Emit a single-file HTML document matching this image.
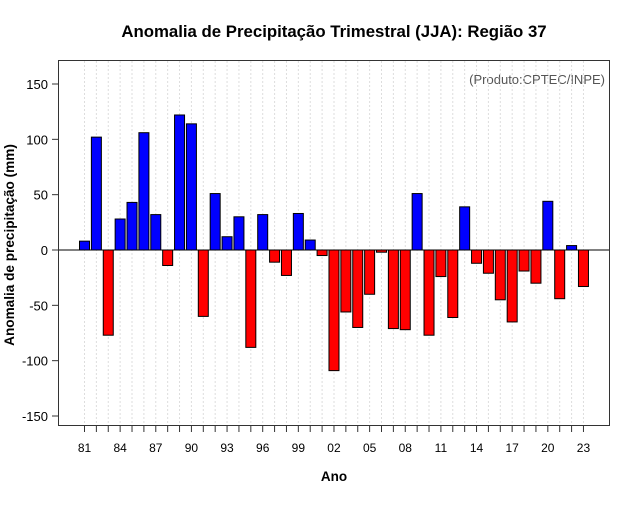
<!DOCTYPE html>
<html><head><meta charset="utf-8"><style>
body{margin:0;background:#fff}
svg text{font-family:"Liberation Sans",sans-serif}
</style></head><body>
<svg id="chart" width="640" height="500" xmlns="http://www.w3.org/2000/svg">
<rect width="640" height="500" fill="#fff"/>
<text x="334" y="37" text-anchor="middle" font-size="16.8" font-weight="bold">Anomalia de Precipitação Trimestral (JJA): Região 37</text>
<text x="334" y="481" text-anchor="middle" font-size="13.5" font-weight="bold">Ano</text>
<text transform="translate(14,245) rotate(-90)" text-anchor="middle" font-size="13.6" font-weight="bold">Anomalia de precipitação (mm)</text>
<text x="605" y="84" text-anchor="end" font-size="13" fill="#555">(Produto:CPTEC/INPE)</text>
<g id="grid"></g><g id="bars"></g><g id="axes"></g>
<rect x="58.5" y="60.5" width="551" height="365" fill="none" stroke="#333"/>
</svg>
<script>
const years=[];for(let y=1981;y<=2023;y++)years.push(y);
const values=[8,102,-77,28,43,106,32,-14,122,114,-60,51,12,30,-88,32,-11,-23,33,9,-5,-109,-56,-70,-40,-2,-71,-72,51,-77,-24,-61,39,-12,-21,-45,-65,-19,-30,44,-44,4,-33];
const yTicks=[-150,-100,-50,0,50,100,150];
const ns="http://www.w3.org/2000/svg";
const X=i=>84.5+i*11.88;
const Y=v=>250-v*166/150;
function mk(t,a,p){const e=document.createElementNS(ns,t);for(const k in a)e.setAttribute(k,a[k]);document.getElementById(p).appendChild(e);return e;}
years.forEach((yr,i)=>{
 const g=mk('line',{x1:X(i),x2:X(i),y1:61,y2:425,stroke:'#ddd','stroke-dasharray':'2,2'},'grid');
 
 
 const t=mk('line',{x1:X(i),x2:X(i),y1:426,y2:432,stroke:'#333'},'axes');
 
 
 if((yr-1981)%3===0){const l=mk('text',{x:X(i),y:452,'text-anchor':'middle','font-size':12},'axes');l.textContent=String(yr%100).padStart(2,'0');
 
 }
});
const zl=mk('line',{x1:59,x2:609,y1:Y(0),y2:Y(0),stroke:'#000'},'grid');


values.forEach((v,i)=>{
 const y0=Y(Math.max(v,0)),h=Math.abs(Y(v)-Y(0));
 const b=mk('rect',{x:X(i)-5,y:y0,width:10,height:h,fill:v>=0?'#0000ff':'#ff0000',stroke:'#000','stroke-width':1},'bars');
 
 
});
yTicks.forEach(v=>{
 const t=mk('line',{x1:52,x2:58,y1:Y(v),y2:Y(v),stroke:'#333'},'axes');
 
 
 const l=mk('text',{x:48,y:Y(v)+5,'text-anchor':'end','font-size':13},'axes');l.textContent=v;
 
 
});
</script>
</body></html>
